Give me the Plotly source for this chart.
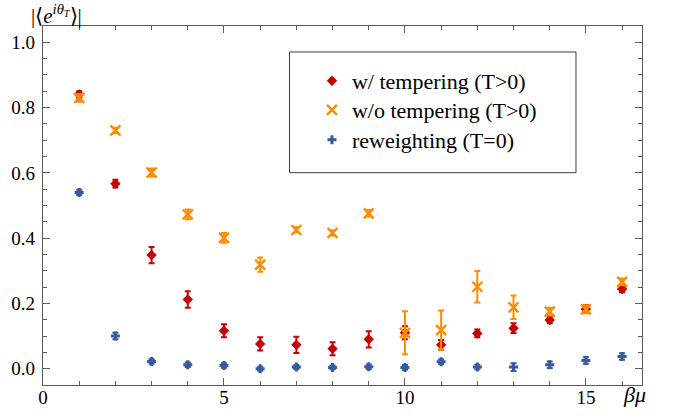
import plotly.graph_objects as go

beta_mu = list(range(1, 17))

# w/ tempering (T>0)
temper_val = [0.840, 0.567, 0.348, 0.212, 0.116, 0.076, 0.073, 0.061, 0.090, 0.110, 0.073, 0.108, 0.124, 0.149, 0.183, 0.244]
temper_err = [0.010, 0.012, 0.025, 0.025, 0.020, 0.020, 0.025, 0.020, 0.025, 0.020, 0.015, 0.012, 0.015, 0.010, 0.012, 0.010]

# w/o tempering (T>0)
notemp_val = [0.830, 0.730, 0.601, 0.473, 0.401, 0.319, 0.425, 0.416, 0.476, 0.110, 0.118, 0.251, 0.188, 0.175, 0.182, 0.266]
notemp_err = [0.012, 0.008, 0.012, 0.015, 0.015, 0.022, 0.008, 0.008, 0.010, 0.066, 0.060, 0.048, 0.036, 0.012, 0.012, 0.010]

# reweighting (T=0)
rew_val = [0.540, 0.100, 0.022, 0.012, 0.010, 0.000, 0.005, 0.004, 0.006, 0.004, 0.021, 0.005, 0.005, 0.012, 0.025, 0.037]
rew_err = [0.008, 0.010, 0.007, 0.007, 0.007, 0.006, 0.006, 0.006, 0.007, 0.007, 0.007, 0.007, 0.012, 0.010, 0.010, 0.010]

RED = "rgb(200,0,0)"
ORANGE = "rgb(255,140,0)"
BLUE = "rgb(52,90,160)"
FONT = "Liberation Serif, Times New Roman, serif"
FRAME = "rgb(90,90,90)"

fig = go.Figure()

fig.add_trace(go.Scatter(
    x=beta_mu, y=temper_val, mode="markers", name="w/ tempering (T>0)",
    legend="legend",
    marker=dict(symbol="diamond", size=8, color=RED),
    error_y=dict(type="data", array=temper_err, color=RED, thickness=2, width=3),
))
fig.add_trace(go.Scatter(
    x=beta_mu, y=notemp_val, mode="markers", name="w/o tempering (T>0)",
    legend="legend2",
    marker=dict(symbol="x-thin", size=10, color=ORANGE, line=dict(width=2.4, color=ORANGE)),
    error_y=dict(type="data", array=notemp_err, color=ORANGE, thickness=2, width=3),
))
fig.add_trace(go.Scatter(
    x=beta_mu, y=rew_val, mode="markers", name="reweighting (T=0)",
    legend="legend3",
    marker=dict(symbol="cross", size=7.5, color=BLUE),
    error_y=dict(type="data", array=rew_err, color=BLUE, thickness=2, width=3),
))

axis_common = dict(
    showline=True, linecolor=FRAME, linewidth=1.2, mirror="ticks",
    ticks="inside", ticklen=7, tickwidth=1, tickcolor=FRAME,
    showgrid=False, zeroline=False, automargin=False,
    tickfont=dict(family=FONT, size=19, color="black"),
)

fig.update_xaxes(
    range=[0, 16.55], tickvals=[0, 5, 10, 15], ticktext=["0", "5", "10", "15"],
    minor=dict(dtick=1, tick0=0, ticks="inside", ticklen=4, tickcolor=FRAME, showgrid=False),
    ticklabelstandoff=-5,
    **axis_common,
)
fig.update_yaxes(
    range=[-0.05, 1.05], tickvals=[0, 0.2, 0.4, 0.6, 0.8, 1.0],
    ticktext=["0.0", "0.2", "0.4", "0.6", "0.8", "1.0"],
    minor=dict(dtick=0.05, tick0=0, ticks="inside", ticklen=4, tickcolor=FRAME, showgrid=False),
    ticklabelstandoff=3,
    **axis_common,
)

fig.add_shape(type="rect", xref="paper", yref="paper",
              x0=0.4115, x1=0.8898, y0=0.5914, y1=0.9276,
              line=dict(color="rgb(60,60,60)", width=1), fillcolor="white", layer="below")

fig.add_annotation(
    xref="paper", yref="paper", x=-0.023, y=0.988, xanchor="left", yanchor="bottom",
    text="|⟨<i>e</i><sup><i>iθ<sub>T</sub></i></sup>⟩|", showarrow=False,
    font=dict(family=FONT, size=21, color="black"),
)
fig.add_annotation(
    xref="paper", yref="paper", x=0.988, y=0.015, xanchor="center", yanchor="top",
    text="<i>βμ</i>", showarrow=False,
    font=dict(family=FONT, size=22, color="black"),
)

leg_common = dict(
    x=0.449, xanchor="left", yanchor="middle",
    bgcolor="rgba(0,0,0,0)", borderwidth=0,
    font=dict(family=FONT, size=22, color="black"), itemwidth=30,
)

fig.update_layout(
    width=673, height=417,
    margin=dict(l=43, r=31, t=26, b=32, autoexpand=False),
    paper_bgcolor="white", plot_bgcolor="white",
    font=dict(family=FONT),
    showlegend=True,
    legend=dict(y=0.8468, **leg_common),
    legend2=dict(y=0.766, **leg_common),
    legend3=dict(y=0.6825, **leg_common),
)

post = "document.body.style.margin='0';document.body.style.padding='0';"
fig.write_html("out.html", config={"displayModeBar": False}, post_script=post)
